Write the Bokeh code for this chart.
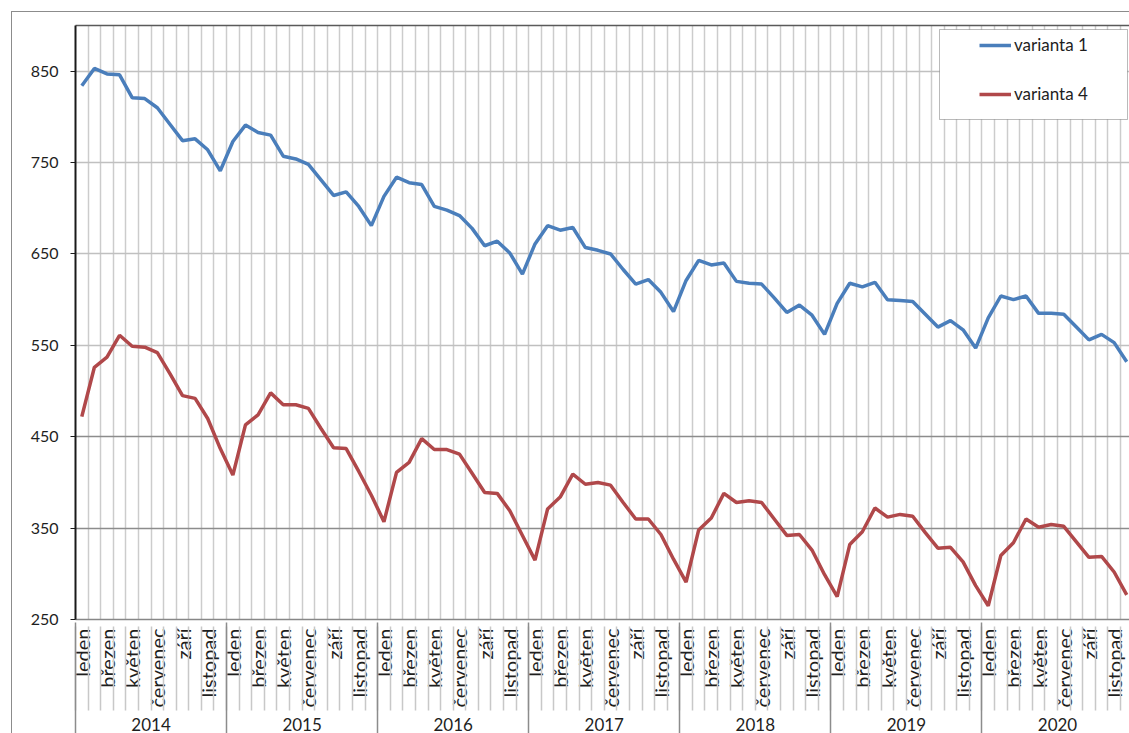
import math
from bokeh.plotting import figure
from bokeh.models import (Range1d, LinearAxis, FixedTicker, Grid, Legend,
                          LegendItem, BoxAnnotation, InlineStyleSheet)
from bokeh.embed import file_html
from bokeh.resources import INLINE

years = ["2014", "2015", "2016", "2017", "2018", "2019", "2020"]
months = ["leden", "únor", "březen", "duben", "květen", "červen",
          "červenec", "srpen", "září", "říjen", "listopad", "prosinec"]
y_ticks = [250, 350, 450, 550, 650, 750, 850]

varianta1 = [
    834, 853, 847, 846, 821, 820, 810, 792, 774, 776, 764, 741,
    773, 791, 783, 780, 757, 754, 748, 731, 714, 718, 702, 681,
    713, 734, 728, 726, 702, 698, 692, 678, 659, 664, 651, 628,
    661, 681, 676, 679, 657, 654, 650, 633, 617, 622, 608, 587,
    621, 643, 638, 640, 620, 618, 617, 602, 586, 594, 583, 562,
    596, 618, 614, 619, 600, 599, 598, 584, 570, 577, 567, 547,
    580, 604, 600, 604, 585, 585, 584, 570, 556, 562, 553, 532,
]
varianta4 = [
    472, 526, 537, 561, 549, 548, 542, 519, 495, 492, 470, 437,
    408, 463, 474, 498, 485, 485, 481, 459, 438, 437, 412, 386,
    357, 411, 422, 448, 436, 436, 431, 410, 389, 388, 369, 342,
    315, 371, 384, 409, 398, 400, 397, 378, 360, 360, 343, 316,
    291, 348, 361, 388, 378, 380, 378, 360, 342, 343, 326, 299,
    275, 332, 346, 372, 362, 365, 363, 345, 328, 329, 313, 287,
    265, 320, 334, 360, 351, 354, 352, 335, 318, 319, 302, 277,
]

nm = len(months)
n = len(years) * nm
xs = [i + 0.5 for i in range(n)]

FONT = "Lato"
TXT = "#1e1e1e"

p = figure(width=1129, height=733, output_backend="svg", toolbar_location=None,
           x_range=Range1d(0, 83.72), y_range=Range1d(250, 900),
           x_axis_type=None, y_axis_type=None,
           min_border_left=75, min_border_top=25, min_border_right=0,
           min_border_bottom=111)
p.outline_line_color = None
p.background_fill_color = "white"
p.border_fill_color = "white"
p.stylesheets = [InlineStyleSheet(css=(
    ":host::after { content: ''; position: absolute; left: 11px; top: 11px; "
    "right: 0px; bottom: 0px; border-left: 1.5px solid #8c8c8c; "
    "border-top: 1.5px solid #8c8c8c; pointer-events: none; z-index: 10; }"))]

# vertical gridlines at month boundaries
p.add_layout(Grid(dimension=0, ticker=FixedTicker(ticks=list(range(1, n))),
                  grid_line_color="#cccccc", grid_line_width=1.5))
# horizontal gridlines
p.add_layout(Grid(dimension=1, ticker=FixedTicker(ticks=y_ticks[3:]),
                  grid_line_color="#c0c0c0", grid_line_width=1.5))
p.add_layout(Grid(dimension=1, ticker=FixedTicker(ticks=y_ticks[1:3]),
                  grid_line_color="#8c8c8c", grid_line_width=1.5))

# y axis
yax = LinearAxis(ticker=FixedTicker(ticks=y_ticks))
yax.axis_line_color = "#1a1a1a"
yax.axis_line_width = 2
yax.major_tick_out = 5
yax.major_tick_in = 0
yax.major_tick_line_color = "#1a1a1a"
yax.minor_tick_out = 0
yax.minor_tick_in = 0
yax.major_label_standoff = 12
yax.major_label_text_font = FONT
yax.major_label_text_font_size = "16px"
yax.major_label_text_color = TXT
p.add_layout(yax, "left")

# top border of plot area
tax = LinearAxis(ticker=FixedTicker(ticks=[]))
tax.axis_line_color = "#5a5a5a"
tax.axis_line_width = 1.5
tax.major_tick_out = 0
tax.major_tick_in = 0
tax.minor_tick_out = 0
tax.minor_tick_in = 0
tax.major_label_text_font_size = "0px"
p.add_layout(tax, "above")

EXT_A = 84   # extent of month-label axis
EXT_B = 27   # extent of year-label axis

# month level axis (labels only)
month_pos = [y * nm + m + 0.5 for y in range(len(years)) for m in range(0, nm, 2)]
month_lab = {y * nm + m + 0.5: months[m] for y in range(len(years)) for m in range(0, nm, 2)}
ax_m = LinearAxis(ticker=FixedTicker(ticks=month_pos))
ax_m.major_label_overrides = month_lab
ax_m.major_label_orientation = math.pi / 2
ax_m.major_tick_out = 0
ax_m.major_tick_in = 0
ax_m.minor_tick_in = 0
ax_m.minor_tick_out = 0
ax_m.axis_line_color = "#878787"
ax_m.axis_line_width = 1.5
ax_m.major_label_standoff = 9
ax_m.major_label_text_font = FONT
ax_m.major_label_text_font_size = "20px"
ax_m.major_label_text_color = TXT
p.add_layout(ax_m, "below")

# year level axis (labels + month separators)
year_pos = [y * nm + nm / 2 for y in range(len(years))]
year_lab = {y * nm + nm / 2: years[y] for y in range(len(years))}
ax_y = LinearAxis(ticker=FixedTicker(ticks=year_pos, minor_ticks=list(range(0, n + 1))))
ax_y.major_label_overrides = year_lab
ax_y.axis_line_color = None
ax_y.major_tick_out = 0
ax_y.major_tick_in = 0
ax_y.minor_tick_out = 0
ax_y.minor_tick_in = EXT_A
ax_y.minor_tick_line_color = "#c8c8c8"
ax_y.minor_tick_line_width = 1.5
ax_y.major_label_standoff = 7
ax_y.major_label_text_font = FONT
ax_y.major_label_text_font_size = "17px"
ax_y.major_label_text_color = TXT
p.add_layout(ax_y, "below")

# year separators
ax_s = LinearAxis(ticker=FixedTicker(ticks=[y * nm for y in range(len(years) + 1)]))
ax_s.major_label_overrides = {y * nm: "" for y in range(len(years) + 1)}
ax_s.axis_line_color = None
ax_s.major_tick_out = 0
ax_s.major_tick_in = EXT_A + EXT_B
ax_s.major_tick_line_color = "#8c8c8c"
ax_s.major_tick_line_width = 1.5
ax_s.minor_tick_out = 0
ax_s.minor_tick_in = 0
ax_s.major_label_standoff = 0
ax_s.major_label_text_font_size = "0px"
p.add_layout(ax_s, "below")

r1 = p.line(xs, varianta1, line_color="#4a7ebb", line_width=3.5)
r4 = p.line(xs, varianta4, line_color="#b0484a", line_width=3.5)

# legend box
p.add_layout(BoxAnnotation(left=939, right=1127, top=29, bottom=119,
                           left_units="canvas", right_units="canvas",
                           top_units="canvas", bottom_units="canvas",
                           fill_color="white", fill_alpha=1,
                           line_color="#1a1a1a", line_width=1))

legend = Legend(items=[LegendItem(label="varianta 1", renderers=[r1]),
                       LegendItem(label="varianta 4", renderers=[r4])],
                location=(904, 515))
legend.border_line_color = None
legend.background_fill_alpha = 0
legend.padding = 0
legend.margin = 0
legend.spacing = 28
legend.glyph_width = 32
legend.glyph_height = 18
legend.label_height = 18
legend.label_standoff = 3
legend.label_text_font = FONT
legend.label_text_font_size = "17px"
legend.label_text_color = TXT
p.add_layout(legend)

open("out.html", "w").write(file_html(p, INLINE))
